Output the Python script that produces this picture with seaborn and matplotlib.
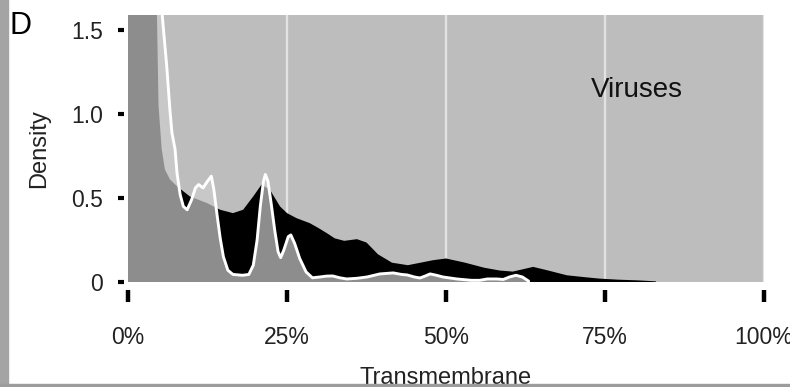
import numpy as np
import pandas as pd
import matplotlib
matplotlib.use("Agg")
import matplotlib.pyplot as plt
from matplotlib.patches import Rectangle
import seaborn as sns

# Density of the transmembrane fraction, black-filled group
black_x = [0.000, 0.020, 0.040, 0.045, 0.048, 0.053, 0.058, 0.066, 0.077, 0.097,
           0.124, 0.145, 0.165, 0.181, 0.197, 0.210, 0.223, 0.239, 0.250, 0.265,
           0.286, 0.300, 0.313, 0.325, 0.340, 0.360, 0.375, 0.393, 0.415, 0.440,
           0.460, 0.480, 0.500, 0.530, 0.560, 0.585, 0.605, 0.637, 0.659, 0.690,
           0.720, 0.742, 0.770, 0.800, 0.830]
black_y = [8.00, 6.00, 2.60, 1.70, 1.05, 0.79, 0.67, 0.61, 0.57, 0.51,
           0.47, 0.43, 0.41, 0.43, 0.51, 0.58, 0.55, 0.45, 0.41, 0.38,
           0.35, 0.32, 0.29, 0.26, 0.245, 0.255, 0.235, 0.165, 0.115, 0.100,
           0.115, 0.130, 0.140, 0.115, 0.085, 0.068, 0.062, 0.090, 0.070, 0.040,
           0.028, 0.020, 0.014, 0.010, 0.004]

# Density of the transmembrane fraction, white-outlined group
white_x = [0.000, 0.030, 0.050, 0.054, 0.061, 0.066, 0.069, 0.074, 0.077, 0.082,
           0.087, 0.093, 0.100, 0.106, 0.111, 0.118, 0.125, 0.131, 0.135, 0.140,
           0.145, 0.150, 0.157, 0.165, 0.180, 0.190, 0.197, 0.203, 0.208, 0.213,
           0.216, 0.220, 0.225, 0.231, 0.236, 0.240, 0.245, 0.252, 0.256, 0.262,
           0.270, 0.280, 0.290, 0.302, 0.312, 0.322, 0.333, 0.344, 0.360, 0.376,
           0.396, 0.417, 0.430, 0.439, 0.450, 0.459, 0.467, 0.475, 0.485, 0.495,
           0.517, 0.540, 0.553, 0.565, 0.580, 0.590, 0.600, 0.610, 0.620, 0.630]
white_y = [9.00, 5.00, 2.00, 1.58, 1.28, 1.02, 0.89, 0.79, 0.65, 0.52,
           0.45, 0.43, 0.49, 0.56, 0.58, 0.56, 0.60, 0.63, 0.55, 0.40,
           0.26, 0.15, 0.07, 0.045, 0.040, 0.045, 0.10, 0.25, 0.45, 0.60,
           0.64, 0.60, 0.47, 0.30, 0.18, 0.145, 0.19, 0.27, 0.28, 0.23,
           0.14, 0.06, 0.025, 0.030, 0.035, 0.036, 0.025, 0.018, 0.022, 0.030,
           0.048, 0.054, 0.045, 0.042, 0.030, 0.024, 0.035, 0.048, 0.040, 0.030,
           0.018, 0.010, 0.010, 0.018, 0.018, 0.015, 0.030, 0.040, 0.030, 0.005]

x_ticks = [0, 0.25, 0.5, 0.75, 1.0]
x_tick_labels = ["0%", "25%", "50%", "75%", "100%"]
y_ticks = [0, 0.5, 1.0, 1.5]
y_tick_labels = ["0", "0.5", "1.0", "1.5"]

black_df = pd.DataFrame({"frac": black_x, "density": black_y})
white_df = pd.DataFrame({"frac": white_x, "density": white_y})

sns.set_theme(style="white")
plt.rcParams["font.family"] = ["Liberation Sans", "DejaVu Sans"]

fig = plt.figure(figsize=(7.90, 3.87), dpi=100)
ax = fig.add_axes([128 / 790, 1 - 282 / 387, 636 / 790, 267 / 387])
ax.set_facecolor("#bdbdbd")

ax.set_xlim(0, 1)
ax.set_ylim(0, 267 / 168)

# vertical guides behind the densities
ax.set_axisbelow(True)
ax.grid(axis="x", color="#e2e2e2", linewidth=1.7)
ax.grid(axis="y", visible=False)

ax.fill_between(black_df["frac"], 0, black_df["density"], color="black",
                linewidth=0, zorder=2)
ax.fill_between(white_df["frac"], 0, white_df["density"], color="#cdcdcd",
                alpha=0.69, linewidth=0, zorder=3)
sns.lineplot(data=white_df, x="frac", y="density", color="white",
             linewidth=2.1, ax=ax, zorder=4, sort=False)

ax.text(0.80, 1.14, "Viruses", fontsize=20, color="#111111",
        ha="center", va="center")

for side in ["top", "right", "left", "bottom"]:
    ax.spines[side].set_visible(False)
ax.spines["bottom"].set_position(("outward", 5.8))
ax.spines["left"].set_position(("outward", 2.9))

ax.set_xticks(x_ticks)
ax.set_xticklabels(x_tick_labels)
ax.set_yticks(y_ticks)
ax.set_yticklabels(y_tick_labels)
ax.tick_params(axis="x", direction="out", length=8.6, width=3.2, color="black",
               pad=17, labelsize=16.5, labelcolor="#222222", bottom=True)
ax.tick_params(axis="y", direction="out", length=4.3, width=3.0, color="black",
               pad=11, labelsize=16.5, labelcolor="#222222", left=True)

ax.set_xlabel("Transmembrane", fontsize=17, color="#222222", labelpad=13)
ax.set_ylabel("Density", fontsize=17, color="#222222", labelpad=15)

fig.text(10 / 790, 1 - 26 / 387, "D", fontsize=22, color="black",
         ha="left", va="center")

# frame pieces along the left and bottom edges
fig.patches.append(Rectangle((0, 0), 8 / 790, 1, transform=fig.transFigure,
                             color="#a4a4a4", zorder=0))
fig.patches.append(Rectangle((0, 0), 1, 3 / 387, transform=fig.transFigure,
                             color="#9c9c9c", zorder=0))

fig.savefig("out.png", dpi=100)
